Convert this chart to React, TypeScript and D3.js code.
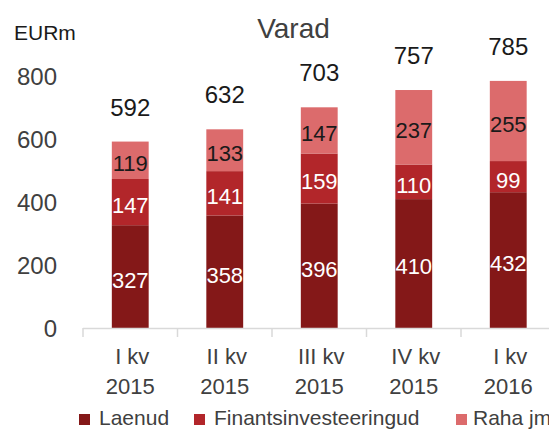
import React from "react";
import * as d3 from "d3";

const categories = ["I kv|2015", "II kv|2015", "III kv|2015", "IV kv|2015", "I kv|2016"];
const laenud = [327, 358, 396, 410, 432];
const finants = [147, 141, 159, 110, 99];
const raha = [119, 133, 147, 237, 255];
const totals = [592, 632, 703, 757, 785];
const yTicks = [0, 200, 400, 600, 800];
const seriesNames = ["Laenud", "Finantsinvesteeringud", "Raha jm"];
const colors = ["#841818", "#B2262A", "#DC6B6C"];
const labelColors = ["#FFFFFF", "#FFFFFF", "#1A1A1A"];

const W = 549;
const H = 430;
const FONT = "'Liberation Sans', Arial, sans-serif";

export default function App() {
  const x = d3.scaleBand<string>().domain(categories).range([83, 555.5]).paddingInner(0.61).paddingOuter(0.305);
  const y = d3.scaleLinear().domain([0, 800]).range([328, 76.5]);
  const rows = categories.map((c, i) => ({ cat: c, Laenud: laenud[i], Fin: finants[i], Raha: raha[i] }));
  const stack = d3.stack<any>().keys(["Laenud", "Fin", "Raha"])(rows);
  const bw = x.bandwidth();
  const step = x.step();
  const boundaries = d3.range(categories.length + 1).map((i) => 83 + i * step);

  return (
    <svg width={W} height={H} style={{ position: "absolute", left: 0, top: 0, background: "#fff" }} fontFamily={FONT}>
      <rect x={0} y={0} width={W} height={H} fill="#fff" />
      <text x={293.5} y={38} textAnchor="middle" fontSize={28} fill="#404040">Varad</text>
      <text x={14} y={40} fontSize={21} fill="#1a1a1a">EURm</text>
      {yTicks.map((t) => (
        <text key={t} x={57} y={y(t)} dy="0.36em" textAnchor="end" fontSize={24} fill="#404040">{t}</text>
      ))}
      {stack.map((s, si) => (
        <g key={si}>
          {s.map((d, i) => (
            <rect key={i} x={x(categories[i])} y={y(d[1])} width={bw} height={y(d[0]) - y(d[1])} fill={colors[si]} />
          ))}
        </g>
      ))}
      {stack.map((s, si) => (
        <g key={"l" + si}>
          {s.map((d, i) => (
            <text key={i} x={(x(categories[i]) as number) + bw / 2} y={(y(d[0]) + y(d[1])) / 2 + 3} dy="0.36em"
              textAnchor="middle" fontSize={22} fill={labelColors[si]}>{d[1] - d[0]}</text>
          ))}
        </g>
      ))}
      {totals.map((t, i) => (
        <text key={i} x={(x(categories[i]) as number) + bw / 2} y={y(t) - 26} textAnchor="middle" fontSize={24} fill="#1a1a1a">{t}</text>
      ))}
      <line x1={83} x2={W} y1={328.5} y2={328.5} stroke="#D9D9D9" strokeWidth={1.5} />
      {boundaries.map((b, i) => (
        <line key={i} x1={b} x2={b} y1={328} y2={337} stroke="#D9D9D9" strokeWidth={1.5} />
      ))}
      {categories.map((c, i) => {
        const [l1, l2] = c.split("|");
        const cx = (x(c) as number) + bw / 2;
        return (
          <g key={i} fontSize={22} fill="#404040" textAnchor="middle">
            <text x={cx + 2} y={364}>{l1}</text>
            <text x={cx} y={394}>{l2}</text>
          </g>
        );
      })}
      {[{ sx: 79, tx: 99 }, { sx: 194, tx: 214 }, { sx: 456, tx: 473 }].map((p, i) => (
        <g key={i}>
          <rect x={p.sx} y={414} width={11} height={11} fill={colors[i]} />
          <text x={p.tx} y={425} fontSize={21} fill="#404040">{seriesNames[i]}</text>
        </g>
      ))}
    </svg>
  );
}
